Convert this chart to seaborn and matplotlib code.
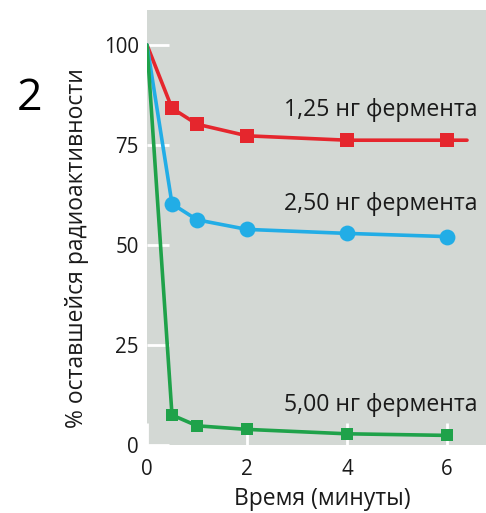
import pandas as pd
import seaborn as sns
import matplotlib.pyplot as plt

sns.set_theme(style="white")
plt.rcParams['font.family'] = ['Open Sans', 'DejaVu Sans']

# data
time_min = [0, 0.5, 1, 2, 4, 6]
red_vals = [100, 84.2, 80.2, 77.3, 76.2, 76.2]     # 1,25 ng
blue_vals = [100, 60.3, 56.3, 53.9, 52.9, 52.1]    # 2,50 ng
green_vals = [100, 7.5, 4.8, 3.9, 2.8, 2.4]        # 5,00 ng
red_tail_x = 6.4   # red curve keeps going past the last point
labels = ["1,25 нг фермента", "2,50 нг фермента", "5,00 нг фермента"]
label_y = [83.8, 60.3, 10.0]
colors = ["#e5262d", "#22ade6", "#1fa24a"]
markers = ["s", "o", "s"]
msizes = [95, 130, 70]

fig = plt.figure(figsize=(4.86, 5.13), dpi=100)
ax = fig.add_axes([147 / 486, 68 / 513, 339 / 486, 435 / 513])
ax.set_facecolor("#d3d8d4")

series = [red_vals, blue_vals, green_vals]
for i, vals in enumerate(series):
    xs = list(time_min)
    ys = list(vals)
    if i == 0:
        xs = xs + [red_tail_x]
        ys = ys + [vals[-1]]
    df = pd.DataFrame({"t": xs, "v": ys})
    sns.lineplot(data=df, x="t", y="v", ax=ax, color=colors[i], lw=2.6, zorder=3)
    pts = pd.DataFrame({"t": time_min[1:], "v": vals[1:]})
    sns.scatterplot(data=pts, x="t", y="v", ax=ax, color=colors[i], marker=markers[i],
                    s=msizes[i], linewidth=0, zorder=4)
    ax.text(6.6, label_y[i], labels[i], ha="right", va="center", fontsize=16.6, color="#1a1a1a")

ax.set_xlim(0, 6.78)
ax.set_ylim(0, 108.75)
ax.set_xticks([0, 2, 4, 6])
ax.set_yticks([0, 25, 50, 75, 100])
ax.tick_params(axis="both", direction="in", length=16, width=2, color="white",
               bottom=True, left=True, labelsize=14.8, labelcolor="#1a1a1a", pad=6)
ax.tick_params(axis="x", pad=10)
for s in ax.spines.values():
    s.set_visible(False)

ax.set_xlabel("Время (минуты)", fontsize=16.5, color="#1a1a1a")
ax.set_ylabel("% оставшейся радиоактивности", fontsize=16.5, color="#1a1a1a")
ax.xaxis.set_label_coords(0.518, -0.097)
ax.yaxis.set_label_coords(-0.171, 0.453)
fig.text(29 / 486, 1 - 99 / 513, "2", fontsize=32, ha="center", va="center", color="black")

fig.savefig("out.png", dpi=100)
